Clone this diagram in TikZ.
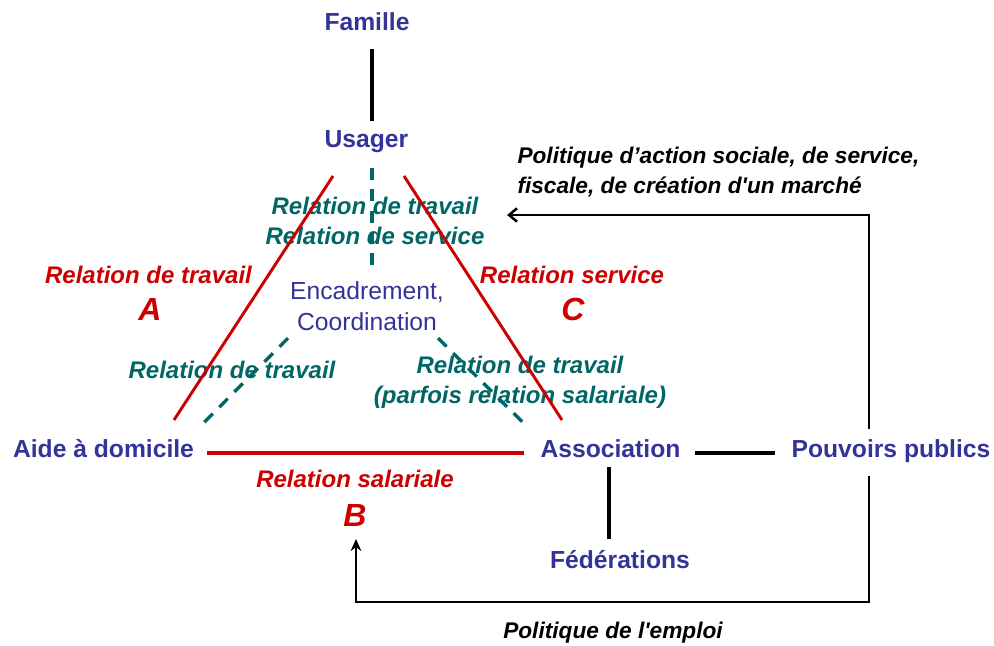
\documentclass[tikz,border=0pt]{standalone}
\usepackage{fontspec}
\setmainfont{Liberation Sans}
\usetikzlibrary{calc,arrows.meta}

\definecolor{blu}{RGB}{51,51,153}
\definecolor{rd}{RGB}{204,0,0}
\definecolor{tl}{RGB}{0,102,102}

\tikzset{every picture/.style={line width=0.75pt}}
\tikzset{
  actor/.style={anchor=base,inner sep=0pt,text=blu,font=\bfseries\fontsize{18.5}{23.25}\selectfont},
  rel/.style={anchor=base,inner sep=0pt,text=rd,font=\bfseries\itshape\fontsize{18}{22}\selectfont},
  letter/.style={anchor=base,inner sep=0pt,text=rd,font=\bfseries\itshape\fontsize{24}{28}\selectfont},
  work/.style={inner sep=0pt,text=tl,align=center,font=\bfseries\itshape\fontsize{18}{22}\selectfont},
  policy/.style={inner sep=0pt,font=\bfseries\itshape\fontsize{17}{22.5}\selectfont},
  redline/.style={draw=rd,line width=2.2pt},
  tealdash/.style={draw=tl,line width=2.5pt,dash pattern=on 9pt off 7pt},
  blackline/.style={draw=black,line width=2.6pt},
}

\begin{document}
\begin{tikzpicture}[x=0.75pt,y=0.75pt,yscale=-1,xscale=1]
    \path[use as bounding box,fill=white] (0,0) rectangle (994,645);

    % Text Node
    \node[actor] (famille) at (367,31) {Famille};
    % Text Node
    \node[actor] (usager) at (366.5,148) {Usager};
    % Text Node
    \node[actor] (aide) at (103.5,457) {Aide à domicile};
    % Text Node
    \node[actor] (assoc) at (610.5,457) {Association};
    % Text Node
    \node[actor] (pouvoirs) at (891,457) {Pouvoirs publics};
    % Text Node
    \node[actor] (federations) at (620,568) {Fédérations};
    % Text Node
    \node[actor,font=\fontsize{18.5}{23.25}\selectfont,align=center,anchor=north] (encad) at (367,281) {Encadrement,\\Coordination};

    % Text Node
    \node[rel] (relA) at (148.5,283) {Relation de travail};
    \node[letter] (lettreA) at (150,320) {A};
    % Text Node
    \node[rel] (relC) at (572,283) {Relation service};
    \node[letter] (lettreC) at (573,320) {C};
    % Text Node
    \node[rel] (relB) at (355,487) {Relation salariale};
    \node[letter] (lettreB) at (355,526) {B};

    % Text Node
    \node[work,anchor=north] (travusager) at (375,197) {Relation de travail\\Relation de service};
    % Text Node
    \node[work,anchor=base] (travaide) at (232,378) {Relation de travail};
    % Text Node
    \node[work,anchor=north] (travassoc) at (520,356) {Relation de travail\\(parfois relation salariale)};

    % Text Node
    \node[policy,anchor=north west,align=left] (polsociale) at (517,147) {Politique d’action sociale, de service,\\fiscale, de création d\textquotesingle un marché};
    % Text Node
    \node[policy,anchor=base] (polemploi) at (613,638) {Politique de l\textquotesingle emploi};

    %Straight Lines
    \draw[blackline] ($(famille.base)+(5,18)$) -- ($(usager.base)+(5.5,-27)$);
    \draw[tealdash] ($(usager.base)+(5.5,20)$) -- ($(encad.north)+(5,-9)$);
    %Straight Lines
    \draw[redline] ($(usager.base)+(-33.5,28)$) -- ($(aide.base)+(70.5,-37)$);
    \draw[redline] ($(usager.base)+(37.5,28)$) -- ($(assoc.base)+(-48.5,-37)$);
    \draw[redline,line width=3pt] ($(aide.base)+(103.5,-4)$) -- ($(assoc.base)+(-86.5,-4)$);
    %Dashed Lines
    \draw[tealdash] ($(encad.south)+(-79,7)$) -- ($(aide.base)+(95,-29)$);
    \draw[tealdash] ($(encad.south)+(71,7)$) -- ($(assoc.base)+(-82,-29)$);
    %Straight Lines
    \draw[blackline,line width=3pt] ($(assoc.base)+(84.5,-4)$) -- ($(pouvoirs.base)+(-116,-4)$);
    \draw[blackline,line width=3pt] ($(assoc.base)+(-1.5,10)$) -- ($(federations.base)+(-11,-29)$);

    %Arrows
    \coordinate (actionsoc) at (507,215);
    \draw[line width=1.9pt,-{Straight Barb[length=6pt,width=10pt]}] ($(pouvoirs.base)+(-22,-28)$) |- (actionsoc);
    \draw[line width=1.9pt,-{Stealth[length=9pt,width=8pt]}] ($(pouvoirs.base)+(-22,19)$) -- ++(0,126) -| ($(lettreB.base)+(1,13)$);

\end{tikzpicture}
\end{document}
